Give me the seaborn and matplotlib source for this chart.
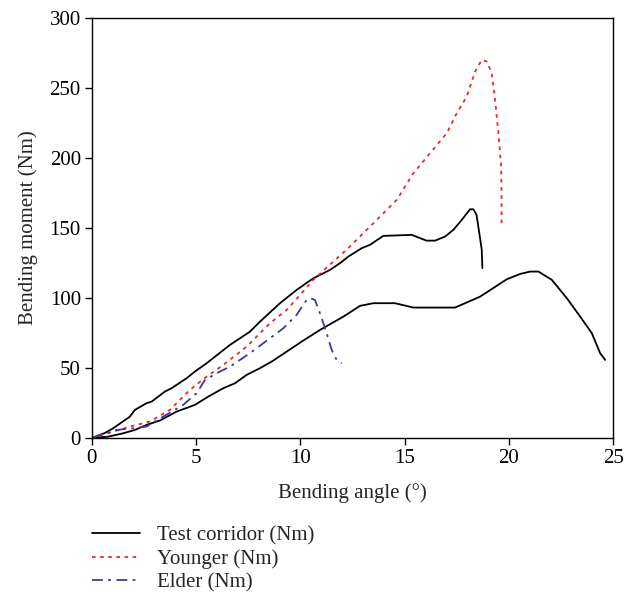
import matplotlib
matplotlib.use('Agg')
import matplotlib.pyplot as plt
import seaborn as sns
import pandas as pd

# ---- data ----
upper_x = [0, 0.62, 1.02, 1.82, 2.06, 2.62, 2.86, 3.50, 3.82, 4.54, 4.94, 5.50, 6.62, 7.58, 8.06,
           9.02, 9.82, 10.62, 11.42, 11.9, 12.3, 12.94, 13.34, 13.98, 15.34, 16.05, 16.46, 16.94,
           17.34, 17.74, 18.14, 18.3, 18.45, 18.62, 18.7, 18.73]
upper_y = [0, 3.5, 6.9, 15.2, 20, 24.8, 25.9, 33.1, 35.5, 42.6, 47.4, 53.3, 66.4, 75.9, 83,
           96.2, 105.7, 114, 120, 124.8, 129.5, 135.5, 137.9, 144.3, 145, 140.9, 140.9, 143.8,
           148.6, 155.7, 163.3, 163.3, 159.3, 142.6, 134.3, 121.2]

lower_x = [0, 0.78, 1.5, 2.06, 2.62, 3.26, 4.06, 4.94, 5.58, 6.3, 6.86, 7.42, 8.06, 8.62, 9.34,
           10.06, 10.94, 12.06, 12.86, 13.5, 14.54, 15.42, 17.42, 18.62, 19.9, 20.54, 21.02,
           21.42, 22.06, 22.78, 23.42, 23.98, 24.38, 24.62]
lower_y = [0, 0.9, 3.3, 5.7, 9.3, 12.4, 18.8, 23.6, 29.5, 35.5, 39, 45, 49.8, 54.5, 61.6,
           68.8, 77.1, 86.6, 94.3, 96.2, 96.2, 93.1, 93.1, 100.9, 113.3, 117.1, 118.8,
           118.8, 112.9, 99.8, 86.7, 74.8, 60.5, 55.7]

younger_x = [0, 1.02, 1.82, 2.78, 3.74, 4.7, 5.5, 6.3, 7.42, 8.54, 9.34, 10.06, 10.62, 11.58,
             12.38, 13.02, 13.82, 14.62, 15.42, 16.22, 17.02, 17.5, 17.98, 18.38, 18.7, 18.94,
             19.18, 19.34, 19.5, 19.63, 19.65, 19.65]
younger_y = [0, 4.5, 8.1, 11.7, 20, 34.3, 43.8, 52.1, 65.2, 81.9, 91.4, 103.3, 112.9, 125.9,
             136.7, 146.2, 158, 170, 189, 203.3, 217.6, 231.9, 243.8, 261.6, 270, 268.8,
             260.5, 241.4, 217.6, 193.8, 170, 151]

elder_x = [0, 1.18, 1.98, 2.62, 3.42, 4.38, 5.02, 5.42, 6.14, 6.62, 7.58, 8.22, 9.18, 9.82,
           10.3, 10.46, 10.7, 10.94, 11.26, 11.5, 11.74, 11.98]
elder_y = [0, 5.7, 6.9, 8.1, 15.2, 23.6, 31.9, 41.4, 47.4, 50.9, 60.5, 67.6, 78.3, 87.9,
           98.6, 99.8, 98.6, 89, 74.8, 62.9, 55.7, 53.3]

x_ticks = [0, 5, 10, 15, 20, 25]
y_ticks = [0, 50, 100, 150, 200, 250, 300]

RED = '#e8292b'
BLUE = '#3b3b9c'
FS = 15

sns.set_style('ticks')
plt.rcParams['font.family'] = ['Liberation Serif', 'DejaVu Serif']

fig = plt.figure(figsize=(6.34, 5.95), dpi=100)
ax = fig.add_axes([0.145, 0.264, 0.822, 0.706])

sns.lineplot(x=upper_x, y=upper_y, sort=False, estimator=None, color='black', lw=1.3,
             ax=ax, label='Test corridor (Nm)')
sns.lineplot(x=lower_x, y=lower_y, sort=False, estimator=None, color='black', lw=1.3, ax=ax)
sns.lineplot(x=younger_x, y=younger_y, sort=False, estimator=None, color=RED, lw=1.3,
             linestyle=(0, (2, 2.5)), ax=ax, label='Younger (Nm)')
sns.lineplot(x=elder_x, y=elder_y, sort=False, estimator=None, color=BLUE, lw=1.3,
             linestyle=(0, (6, 3, 1.5, 3)), ax=ax, label='Elder (Nm)')

ax.set_xlim(0, 25)
ax.set_ylim(0, 300)
ax.set_xticks(x_ticks)
ax.set_yticks(y_ticks)
ax.tick_params(direction='out', length=5, width=1, labelsize=FS, colors='black', pad=3)
for s in ax.spines.values():
    s.set_linewidth(1)
    s.set_color('black')
ax.set_xlabel('Bending angle (°)', fontsize=FS, labelpad=11)
ax.set_ylabel('Bending moment (Nm)', fontsize=FS, labelpad=8)

handles, labels = ax.get_legend_handles_labels()
ax.get_legend().remove()
fig.legend(handles, labels, loc='upper left', bbox_to_anchor=(0.145, 0.116),
           frameon=False, fontsize=FS, handlelength=2.3, handletextpad=0.8,
           labelspacing=0.175, borderpad=0, borderaxespad=0)

fig.savefig('out.png', dpi=100)
